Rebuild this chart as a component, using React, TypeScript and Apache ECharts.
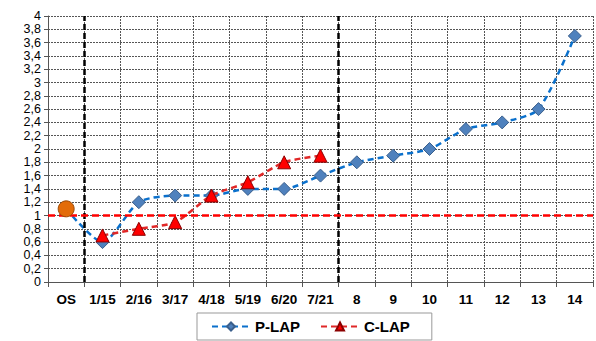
import React, { useEffect, useRef } from "react";
import * as echarts from "echarts";

const categories = ["OS", "1/15", "2/16", "3/17", "4/18", "5/19", "6/20", "7/21", "8", "9", "10", "11", "12", "13", "14"];
const pLap = [1.1, 0.6, 1.2, 1.3, 1.3, 1.4, 1.4, 1.6, 1.8, 1.9, 2.0, 2.3, 2.4, 2.6, 3.7];
const cLap = [null, 0.7, 0.8, 0.9, 1.3, 1.5, 1.8, 1.9, null, null, null, null, null, null, null];
const osPoint = [1.1, null, null, null, null, null, null, null, null, null, null, null, null, null, null];
const referenceLevel = 1.01;
const dividerPositions = [1, 8];

export default function App() {
  const ref = useRef<HTMLDivElement>(null);
  useEffect(() => {
    if (!ref.current) return;
    const chart = echarts.init(ref.current, null, { renderer: "svg" });
    chart.setOption({
      animation: false,
      textStyle: { fontFamily: "Liberation Sans, Arial, sans-serif" },
      grid: { left: 48, right: 3, top: 16, bottom: 59 },
      legend: {
        bottom: 1,
        left: 197,
        data: ["P-LAP", "C-LAP"],
        borderColor: "#999",
        borderWidth: 1,
        padding: [6, 22, 6, 14],
        itemGap: 20,
        itemWidth: 38,
        itemHeight: 10,
        textStyle: { fontSize: 15, fontWeight: "bold", color: "#000" },
      },
      xAxis: [
        {
          type: "category",
          data: categories,
          boundaryGap: true,
          axisLine: { lineStyle: { color: "#555" } },
          axisTick: { show: true, interval: 0, length: 5, lineStyle: { color: "#555" } },
          axisLabel: { interval: 0, fontSize: 13.5, fontWeight: "bold", color: "#000", margin: 10 },
          splitLine: { show: true, interval: 0, lineStyle: { color: "#555", type: [2, 1], width: 1 } },
        },
        {
          type: "value",
          min: 0,
          max: 15,
          show: false,
        },
      ],
      yAxis: {
        type: "value",
        min: 0,
        max: 4,
        interval: 0.2,
        axisLine: { show: true, lineStyle: { color: "#555" } },
        axisTick: { show: true, length: 4, lineStyle: { color: "#555" } },
        axisLabel: {
          fontSize: 12.5,
          lineHeight: 12,
          color: "#000",
          margin: 7,
          showMinLabel: true,
          showMaxLabel: true,
          hideOverlap: false,
          formatter: (v: number) => String(Math.round(v * 10) / 10).replace(".", ","),
        },
        splitLine: { show: true, lineStyle: { color: "#555", type: [2, 1], width: 1 } },
      },
      series: [
        {
          name: "dividers",
          type: "line",
          xAxisIndex: 1,
          data: [],
          silent: true,
          markLine: {
            silent: true,
            symbol: "none",
            label: { show: false },
            lineStyle: { color: "#000", type: [6, 3], width: 2.5 },
            data: dividerPositions.map((p) => ({ xAxis: p })),
          },
        },
        {
          name: "ref",
          type: "line",
          data: [],
          silent: true,
          markLine: {
            silent: true,
            symbol: "none",
            label: { show: false },
            lineStyle: { color: "#FF0000", type: [7, 4], width: 2.5 },
            data: [{ yAxis: referenceLevel }],
          },
        },
        {
          name: "P-LAP",
          type: "line",
          data: pLap.map((v, i) => (i === 0 ? { value: v, symbol: "none" } : v)),
          smooth: 0.25,
          symbol: "diamond",
          symbolSize: 13,
          lineStyle: { color: "#0A70CC", type: [6, 4], width: 2.5 },
          itemStyle: { color: "#4F81BD", borderColor: "#3A5F8C", borderWidth: 1 },
          z: 3,
        },
        {
          name: "C-LAP",
          type: "line",
          data: cLap,
          smooth: 0.25,
          symbol: "triangle",
          symbolSize: 13,
          lineStyle: { color: "#E02828", type: [6, 4], width: 2.5 },
          itemStyle: { color: "#FF0000", borderColor: "#8B0000", borderWidth: 1 },
          z: 4,
        },
        {
          name: "OS",
          type: "line",
          data: osPoint,
          symbol: "circle",
          symbolSize: 16,
          showSymbol: true,
          lineStyle: { width: 0 },
          itemStyle: { color: "#E36C09", borderColor: "#9C4A06", borderWidth: 1 },
          z: 5,
        },
      ],
    });
    return () => chart.dispose();
  }, []);
  return <div ref={ref} style={{ width: 596, height: 341, position: "absolute", left: 0, top: 0, background: "#fff" }} />;
}
